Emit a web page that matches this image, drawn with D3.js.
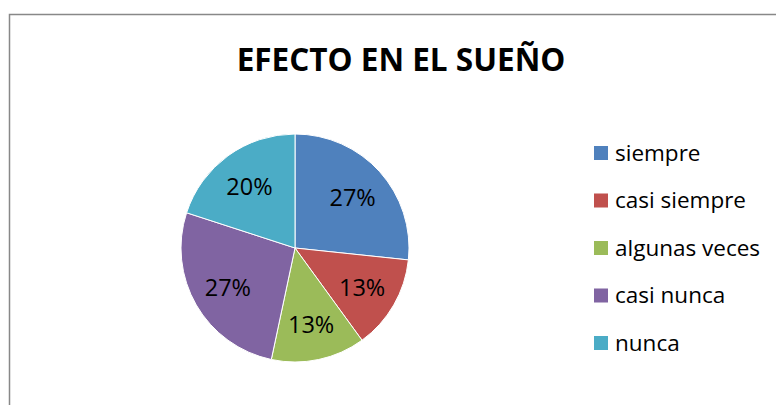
<!DOCTYPE html>
<html><head><meta charset="utf-8">
<script src="https://cdn.jsdelivr.net/npm/d3@7"></script>
<style>body{margin:0;background:#fff}svg{display:block}</style>
</head><body>
<svg id="c" width="776" height="405"></svg>
<script>
const categories = ["siempre","casi siempre","algunas veces","casi nunca","nunca"];
const values = [4,2,2,4,3];
const colors = ["#4F81BD","#C0504D","#9BBB59","#8064A2","#4BACC6"];
const title = "EFECTO EN EL SUEÑO";

const svg = d3.select("#c");
const font = "'Open Sans', 'Noto Sans', sans-serif";
svg.append("rect").attr("x",9.5).attr("y",14.5).attr("width",800).attr("height",500)
  .attr("fill","#fff").attr("stroke","#888").attr("stroke-width",1.5);

svg.append("text").attr("x",401).attr("y",71).attr("text-anchor","middle")
  .attr("font-family",font).attr("font-weight","bold").attr("font-size",31.5)
  .attr("fill","#000").text(title);

const cx=295, cy=248, r=114;
const total = d3.sum(values);
const pie = d3.pie().sort(null).value(d=>d)(values);
const arc = d3.arc().innerRadius(0).outerRadius(r);
const lab = d3.arc().innerRadius(r*0.68).outerRadius(r*0.68);
const g = svg.append("g").attr("transform",`translate(${cx},${cy})`);
g.selectAll("path").data(pie).join("path").attr("d",arc)
  .attr("fill",(d,i)=>colors[i]).attr("stroke","#fff").attr("stroke-width",1);
g.selectAll("text").data(pie).join("text")
  .attr("transform",d=>`translate(${lab.centroid(d)})`)
  .attr("text-anchor","middle").attr("dy","0.4em")
  .attr("font-family",font).attr("font-size",23.5).attr("fill","#000")
  .text(d=>Math.round(d.data/total*100)+"%");

const ly = d3.scalePoint().domain(categories).range([153,343]);
const lg = svg.append("g");
lg.selectAll("rect").data(categories).join("rect")
  .attr("x",594).attr("y",d=>ly(d)-7).attr("width",14).attr("height",14)
  .attr("fill",(d,i)=>colors[i]);
lg.selectAll("text").data(categories).join("text")
  .attr("x",615).attr("y",d=>ly(d)).attr("dy","0.35em")
  .attr("font-family",font).attr("font-size",22.5).attr("fill","#000").text(d=>d);
</script>
</body></html>
